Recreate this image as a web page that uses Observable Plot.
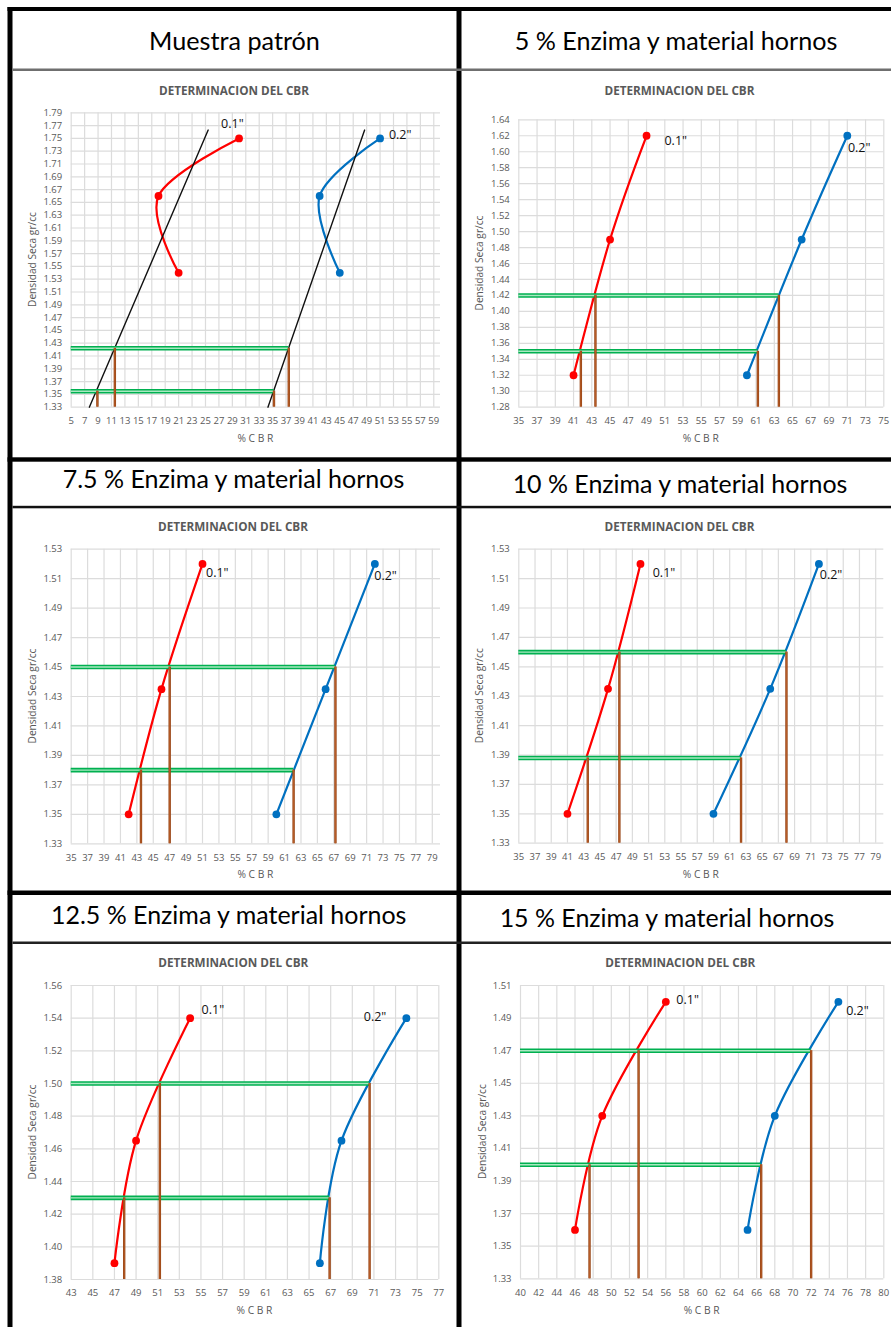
<!DOCTYPE html>
<html>
<head>
<meta charset="utf-8">
<script src="https://cdn.jsdelivr.net/npm/d3@7"></script>
<script src="https://cdn.jsdelivr.net/npm/@observablehq/plot@0.6"></script>
<style>
html,body{margin:0;padding:0;background:#fff;}
#root{position:relative;width:891px;height:1327px;overflow:hidden;background:#fff;}
#root svg{position:absolute;}
</style>
</head>
<body>
<div id="root"></div>
<script>
// ---------------- DATA ----------------
const panelTitles = [
  "Muestra patrón",
  "5 % Enzima y material hornos",
  "7.5 % Enzima y material hornos",
  "10 % Enzima y material hornos",
  "12.5 % Enzima y material hornos",
  "15 % Enzima y material hornos"
];
const chartTitle = "DETERMINACION DEL CBR";
const yAxisTitle = "Densidad Seca gr/cc";
const xAxisTitle = "% C B R";
const seriesNames = ["0.1\"", "0.2\""];

const xMin = [5, 35, 35, 35, 43, 40];
const xMax = [60, 75, 80, 80, 77, 80];
const xStep = [2, 2, 2, 2, 2, 2];
const yMin = [1.33, 1.28, 1.33, 1.33, 1.38, 1.33];
const yMax = [1.79, 1.64, 1.53, 1.53, 1.56, 1.51];
const yStep = [0.02, 0.02, 0.02, 0.02, 0.02, 0.02];

// dry density of the three specimens (gr/cc)
const density = [
  [1.75, 1.66, 1.54],
  [1.62, 1.49, 1.32],
  [1.52, 1.435, 1.35],
  [1.52, 1.435, 1.35],
  [1.54, 1.465, 1.39],
  [1.50, 1.43, 1.36]
];
// CBR at 0.1" penetration
const cbr01 = [
  [30, 18, 21],
  [49, 45, 41],
  [51, 46, 42],
  [50, 46, 41],
  [54, 49, 47],
  [56, 49, 46]
];
// CBR at 0.2" penetration
const cbr02 = [
  [51, 42, 45],
  [71, 66, 60],
  [72, 66, 60],
  [72, 66, 59],
  [74, 68, 66],
  [75, 68, 65]
];
// reference densities (green) and CBR read-outs (brown)
const refDensHigh = [1.422, 1.42, 1.45, 1.46, 1.50, 1.47];
const refDensLow  = [1.355, 1.35, 1.38, 1.388, 1.43, 1.40];
const cbr01AtHigh = [11.5, 43.4, 47.0, 47.4, 51.2, 53.0];
const cbr01AtLow  = [8.9, 41.8, 43.5, 43.5, 47.9, 47.6];
const cbr02AtHigh = [37.4, 63.5, 67.2, 68.0, 70.6, 72.0];
const cbr02AtLow  = [35.2, 61.2, 62.1, 62.4, 66.9, 66.5];
// straight reference lines in the first panel
const trendX = [[7.7, 25.4], [34.3, 48.7]];
const trendY = [[1.33, 1.763], [1.33, 1.763]];
// series label anchors
const label01X = [29.0, 52.2, 52.8, 52.9, 56.1, 58.4];
const label01Y = [1.773, 1.614, 1.514, 1.514, 1.545, 1.501];
const label02X = [54.0, 72.3, 73.3, 73.5, 71.1, 77.1];
const label02Y = [1.756, 1.6045, 1.512, 1.5126, 1.5406, 1.4946];

// ---------------- LAYOUT ----------------
const layout = [
  {left: 13, top: 72, w: 443, h: 384, fx0: 70.7, fx1: 440, fy0: 112.3, fy1: 406.7, hx: 234.5, hy: 50, hw: 171, tx: 234, ty: 90, yx: 32.3, xy: 437.7},
  {left: 462, top: 72, w: 429, h: 384, fx0: 518.3, fx1: 883.3, fy0: 119.3, fy1: 406.7, hx: 676, hy: 50, hw: 324, tx: 679.5, ty: 90, yx: 479, xy: 437.7},
  {left: 13, top: 509, w: 443, h: 381, fx0: 70.7, fx1: 440, fy0: 548.7, fy1: 843.3, hx: 233.5, hy: 488.3, hw: 343, tx: 233, ty: 526, yx: 32.3, xy: 874},
  {left: 462, top: 509, w: 429, h: 381, fx0: 518.3, fx1: 883.3, fy0: 548.7, fy1: 842.7, hx: 680, hy: 492.5, hw: 336, tx: 679.5, ty: 526, yx: 479, xy: 874},
  {left: 13, top: 945, w: 443, h: 382, fx0: 70.7, fx1: 438.3, fy0: 985, fy1: 1279, hx: 228.7, hy: 924, hw: 357, tx: 233.3, ty: 962.3, yx: 32.3, xy: 1310},
  {left: 462, top: 945, w: 429, h: 382, fx0: 520, fx1: 883.3, fy0: 985, fy1: 1278.3, hx: 667, hy: 926.5, hw: 336, tx: 680.3, ty: 962.3, yx: 481.7, xy: 1310}
];

const root = document.getElementById("root");
const ctx = document.createElement("canvas").getContext("2d");
function fit(text, weight, family, target) {
  ctx.font = `${weight} 100px ${family}`;
  return 100 * target / ctx.measureText(text).width;
}
const HEAD_FONT = "Lato, 'Open Sans', sans-serif";
const CH_FONT = "'Open Sans', Lato, sans-serif";

// background: borders, headers, titles
const bg = d3.create("svg").attr("width", 891).attr("height", 1327).style("left", "0px").style("top", "0px");
const rect = (x, y, w, h, c) => bg.append("rect").attr("x", x).attr("y", y).attr("width", w).attr("height", h).attr("fill", c);
rect(7.5, 7, 5, 1320, "#000");
rect(7.5, 7, 884, 4, "#000");
rect(456.5, 7, 5, 1320, "#000");
rect(12.5, 68.5, 879, 2.5, "#6f6f6f");
rect(7.5, 457.3, 884, 4.4, "#000");
rect(12.5, 505.8, 879, 2.5, "#111");
rect(7.5, 890.5, 884, 4.5, "#000");
rect(12.5, 941.5, 879, 2.5, "#222");

const titleSize = fit(chartTitle, "bold", CH_FONT, 150);
const ySize = fit(yAxisTitle, "normal", CH_FONT, 95);
const xSize = fit(xAxisTitle, "normal", CH_FONT, 36);

layout.forEach((L, i) => {
  bg.append("text").attr("x", L.hx).attr("y", L.hy).attr("text-anchor", "middle")
    .attr("font-family", HEAD_FONT).attr("font-size", fit(panelTitles[i], "normal", HEAD_FONT, L.hw))
    .attr("fill", "#000").text(panelTitles[i]);
  bg.append("text").attr("x", L.tx).attr("y", L.ty).attr("text-anchor", "middle").attr("dominant-baseline", "central")
    .attr("font-family", CH_FONT).attr("font-weight", "bold").attr("font-size", titleSize)
    .attr("fill", "#595959").text(chartTitle);
  const cy = (L.fy0 + L.fy1) / 2, cx = (L.fx0 + L.fx1) / 2;
  bg.append("text").attr("transform", `translate(${L.yx},${cy}) rotate(-90)`).attr("text-anchor", "middle")
    .attr("dominant-baseline", "central").attr("font-family", CH_FONT).attr("font-size", ySize)
    .attr("fill", "#595959").text(yAxisTitle);
  bg.append("text").attr("x", cx).attr("y", L.xy).attr("text-anchor", "middle").attr("dominant-baseline", "central")
    .attr("font-family", CH_FONT).attr("font-size", xSize).attr("fill", "#595959").text(xAxisTitle);
});
root.appendChild(bg.node());

// ---------------- PLOTS ----------------
function makePanel(i) {
  const L = layout[i];
  const xt = d3.range(xMin[i], xMax[i] + 1e-9, xStep[i]);
  const nY = Math.round((yMax[i] - yMin[i]) / yStep[i]);
  const yt = d3.range(nY + 1).map(k => +(yMin[i] + k * yStep[i]).toFixed(3));
  const s01 = cbr01[i].map((x, k) => ({x, y: density[i][k]}));
  const s02 = cbr02[i].map((x, k) => ({x, y: density[i][k]}));
  const greens = [
    {y: refDensHigh[i], x1: xMin[i], x2: cbr02AtHigh[i]},
    {y: refDensLow[i], x1: xMin[i], x2: cbr02AtLow[i]}
  ];
  const browns = [
    {x: cbr01AtLow[i], y1: refDensLow[i]},
    {x: cbr01AtHigh[i], y1: refDensHigh[i]},
    {x: cbr02AtLow[i], y1: refDensLow[i]},
    {x: cbr02AtHigh[i], y1: refDensHigh[i]}
  ].map(d => ({...d, y2: yMin[i]}));
  const trends = i === 0 ? trendX.flatMap((xs, k) => xs.map((x, j) => ({x, y: trendY[k][j], k}))) : [];
  const labels = [
    {x: label01X[i], y: label01Y[i], t: seriesNames[0]},
    {x: label02X[i], y: label02Y[i], t: seriesNames[1]}
  ];
  const svg = Plot.plot({
    width: L.w, height: L.h,
    marginLeft: L.fx0 - L.left, marginRight: L.left + L.w - L.fx1,
    marginTop: L.fy0 - L.top, marginBottom: L.top + L.h - L.fy1,
    x: {domain: [xMin[i], xMax[i]], ticks: xt, tickFormat: d => String(d), tickSize: 0, tickPadding: 10, label: null},
    y: {domain: [yMin[i], yMax[i]], ticks: yt, tickFormat: d3.format(".2f"), tickSize: 0, tickPadding: 9, label: null},
    style: {fontFamily: "'Open Sans', sans-serif", fontSize: "9.5px", color: "#595959", background: "transparent", overflow: "visible"},
    marks: [
      Plot.ruleX(xt, {stroke: "#dcdcdc", strokeWidth: 1.2}),
      Plot.ruleY(yt, {stroke: "#dcdcdc", strokeWidth: 1.2}),
      Plot.line(s01, {x: "x", y: "y", stroke: "#ff0000", strokeWidth: 2.2, curve: "cardinal"}),
      Plot.line(s02, {x: "x", y: "y", stroke: "#0070c0", strokeWidth: 2.2, curve: "cardinal"}),
      Plot.dot(s01, {x: "x", y: "y", fill: "#ff0000", r: 3.9}),
      Plot.dot(s02, {x: "x", y: "y", fill: "#0070c0", r: 3.9}),
      Plot.text(labels, {x: "x", y: "y", text: "t", fill: "#111", fontSize: 12.5, fontFamily: "'Open Sans', sans-serif", textAnchor: "middle", lineAnchor: "middle"}),
      Plot.line(trends, {x: "x", y: "y", z: "k", stroke: "#111", strokeWidth: 1.4}),
      Plot.ruleY(greens, {y: "y", x1: "x1", x2: "x2", stroke: "#00b050", strokeWidth: 4.6}),
      Plot.ruleY(greens, {y: "y", x1: "x1", x2: "x2", stroke: "#a9e8c1", strokeWidth: 1.4}),
      Plot.ruleX(browns, {x: "x", y1: "y1", y2: "y2", stroke: "#984516", strokeWidth: 2.4}),
      Plot.ruleX(browns, {x: "x", y1: "y1", y2: "y2", stroke: "#c0632c", strokeWidth: 0.8})
    ]
  });
  svg.style.left = L.left + "px";
  svg.style.top = L.top + "px";
  return svg;
}
for (let i = 0; i < 6; i++) root.appendChild(makePanel(i));
</script>
</body>
</html>
